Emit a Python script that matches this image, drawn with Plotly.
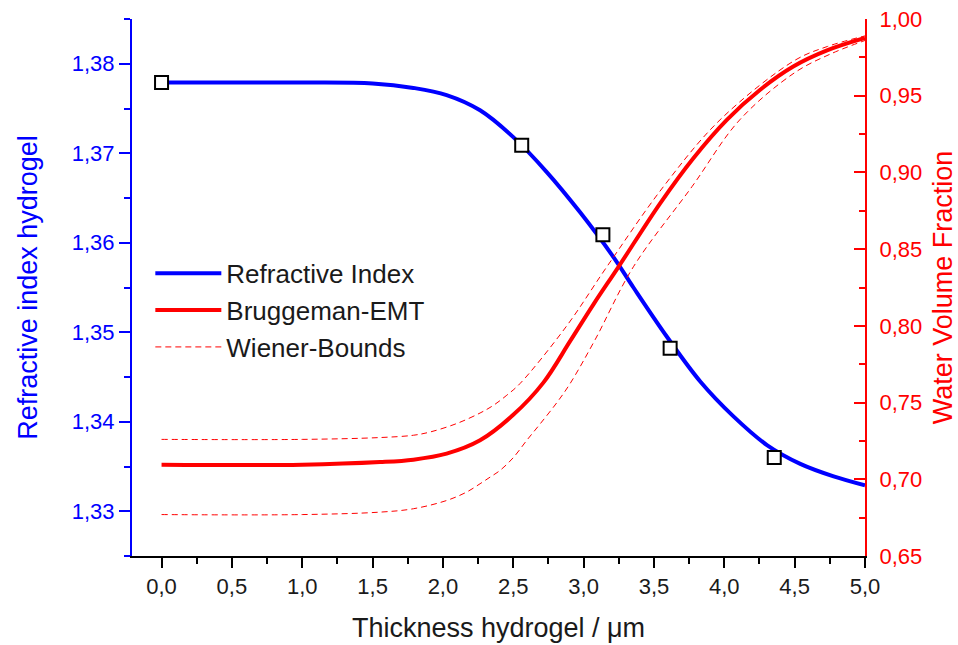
import plotly.graph_objects as go

# ---- data ----
thickness_ri = [0.0, 0.5, 1.0, 1.5, 1.79, 2.026, 2.264, 2.5, 2.738, 2.975, 3.212, 3.354,
                3.592, 3.829, 4.065, 4.303, 4.54, 4.777, 5.0]
refractive_index = [1.3779, 1.3779, 1.3779, 1.3778, 1.3773, 1.3765, 1.3748, 1.3718,
                    1.3679, 1.3634, 1.3584, 1.3550, 1.3495, 1.3445, 1.3406, 1.3374,
                    1.3353, 1.3339, 1.3329]

thickness_emt = [0.0, 1.0, 1.553, 1.79, 2.026, 2.264, 2.5, 2.714, 2.904, 3.07, 3.248,
                 3.544, 3.78, 4.018, 4.255, 4.49, 4.73, 5.0]
bruggeman_emt = [0.7095, 0.7095, 0.7112, 0.7128, 0.7167, 0.7254, 0.7420, 0.7630,
                 0.7900, 0.8140, 0.8385, 0.8799, 0.9093, 0.9343, 0.9539, 0.9690,
                 0.9795, 0.9876]

thickness_upper = [0.0, 1.0, 1.553, 1.79, 1.908, 2.097, 2.264, 2.359, 2.454, 2.548,
                   2.88, 3.165, 3.567, 3.97, 4.5, 4.73, 5.0]
wiener_upper = [0.726, 0.726, 0.7272, 0.7287, 0.7308, 0.7363, 0.7432, 0.7482, 0.7548,
                0.7624, 0.800, 0.8385, 0.8907, 0.9343, 0.973, 0.982, 0.989]

thickness_lower = [0.0, 1.0, 1.553, 1.79, 2.027, 2.169, 2.264, 2.335, 2.406, 2.5, 2.596,
                   2.69, 2.81, 2.904, 3.08, 3.354, 3.77, 4.11, 4.5, 4.75, 5.0]
wiener_lower = [0.677, 0.677, 0.6786, 0.6808, 0.6862, 0.6917, 0.6971, 0.7014, 0.7058,
                0.7141, 0.7254, 0.7360, 0.7500, 0.7624, 0.7907, 0.8385, 0.8907,
                0.9343, 0.965, 0.977, 0.986]

meas_thickness = [0.0, 2.56, 3.137, 3.615, 4.355]
meas_index = [1.3779, 1.3709, 1.3609, 1.3482, 1.3360]

BLUE = "#0000ff"
RED = "#ff0000"
FONT = "Arial, Liberation Sans, sans-serif"
SMOOTH = 1.0

fig = go.Figure()

fig.add_trace(go.Scatter(
    x=thickness_ri, y=refractive_index, mode="lines", name="Refractive Index",
    line=dict(color=BLUE, width=4, shape="spline", smoothing=SMOOTH), yaxis="y"))
fig.add_trace(go.Scatter(
    x=meas_thickness, y=meas_index, mode="markers", showlegend=False,
    marker=dict(symbol="square", size=13, color="white",
                line=dict(color="black", width=2)), yaxis="y"))
fig.add_trace(go.Scatter(
    x=thickness_emt, y=bruggeman_emt, mode="lines", name="Bruggeman-EMT",
    line=dict(color=RED, width=4, shape="spline", smoothing=SMOOTH), yaxis="y2"))
fig.add_trace(go.Scatter(
    x=thickness_upper, y=wiener_upper, mode="lines", name="Wiener-Bounds",
    legendgroup="wiener",
    line=dict(color=RED, width=1, dash="6px,4px", shape="spline", smoothing=SMOOTH),
    yaxis="y2"))
fig.add_trace(go.Scatter(
    x=thickness_lower, y=wiener_lower, mode="lines", name="Wiener-Bounds",
    legendgroup="wiener", showlegend=False,
    line=dict(color=RED, width=1, dash="6px,4px", shape="spline", smoothing=SMOOTH),
    yaxis="y2"))

fig.update_layout(
    width=958, height=645,
    margin=dict(l=132, r=93, t=19, b=89, pad=0, autoexpand=False),
    paper_bgcolor="white", plot_bgcolor="white",
    separators=", ",
    font=dict(family=FONT, size=22, color="#1a1a1a"),
    showlegend=True,
    legend=dict(x=0.025, y=0.57, xanchor="left", yanchor="top",
                bgcolor="rgba(0,0,0,0)", borderwidth=0, itemwidth=66,
                font=dict(family=FONT, size=26, color="#1a1a1a"),
                tracegroupgap=0),
    xaxis=dict(
        automargin=False,
        range=[-0.21, 5.0], tickmode="linear", tick0=0, dtick=0.5, tickformat=".1f",
        ticks="outside", ticklen=10, tickwidth=2, tickcolor="black",
        showline=True, linecolor="black", linewidth=2,
        showgrid=False, zeroline=False,
        tickfont=dict(size=22, color="#1a1a1a"),
        minor=dict(ticks="outside", ticklen=6, tickwidth=2, tickcolor="black",
                   tick0=0, dtick=0.25, showgrid=False),
        title=dict(text="Thickness hydrogel / μm", standoff=20,
                   font=dict(size=27, color="#1a1a1a")),
    ),
    yaxis=dict(
        automargin=False,
        range=[1.325, 1.385], tickmode="linear", tick0=1.33, dtick=0.01,
        tickformat=".2f",
        ticks="outside", ticklen=11, tickwidth=2, tickcolor=BLUE,
        showline=True, linecolor=BLUE, linewidth=2,
        showgrid=False, zeroline=False,
        tickfont=dict(size=22, color=BLUE),
        minor=dict(ticks="outside", ticklen=6, tickwidth=2, tickcolor=BLUE,
                   tick0=1.325, dtick=0.005, showgrid=False),
        title=dict(text="Refractive index hydrogel", standoff=26,
                   font=dict(size=27, color=BLUE)),
    ),
    yaxis2=dict(
        automargin=False,
        overlaying="y", side="right", anchor="x",
        range=[0.65, 1.0], tickmode="linear", tick0=0.65, dtick=0.05,
        tickformat=".2f",
        ticks="inside", ticklen=11, tickwidth=2, tickcolor=RED,
        showline=True, linecolor=RED, linewidth=2,
        showgrid=False, zeroline=False,
        tickfont=dict(size=22, color=RED), ticklabelstandoff=8,
        minor=dict(ticks="inside", ticklen=6, tickwidth=2, tickcolor=RED,
                   tick0=0.65, dtick=0.025, showgrid=False),
        title=dict(text="Water Volume Fraction", standoff=16,
                   font=dict(size=27, color=RED)),
    ),
)

fig.write_html("out.html")
